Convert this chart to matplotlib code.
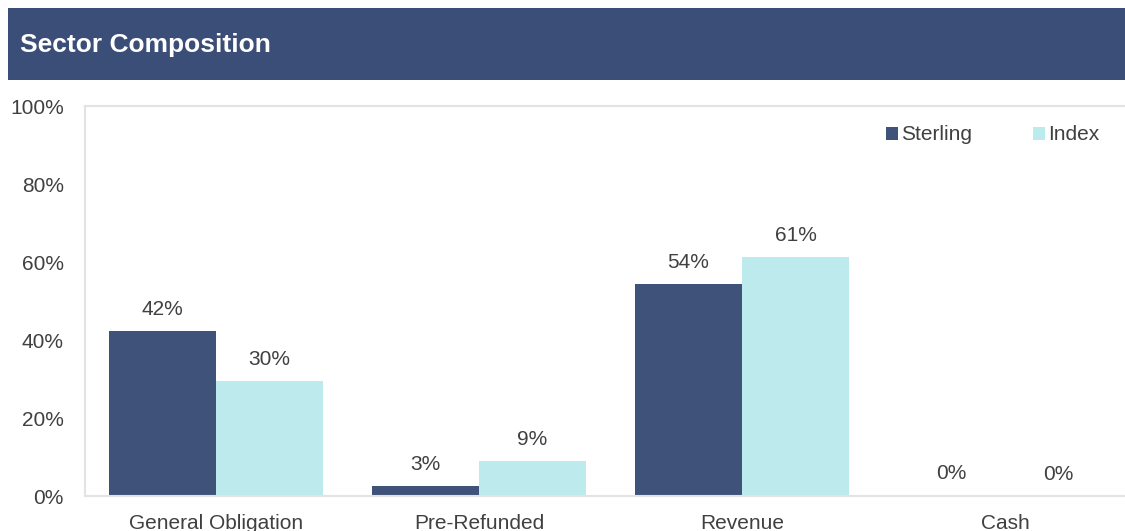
import numpy as np
import matplotlib.pyplot as plt
from matplotlib.patches import Rectangle
from matplotlib.ticker import FuncFormatter

# data
categories = ["General Obligation", "Pre-Refunded", "Revenue", "Cash"]
sterling = [42.3, 2.6, 54.4, 0.3]
index = [29.5, 9.0, 61.3, 0.0]
sterling_lbl = ["42%", "3%", "54%", "0%"]
index_lbl = ["30%", "9%", "61%", "0%"]

NAVY = "#3f527a"
AQUA = "#bdebed"
HEADER = "#3b4e77"
TEXT = "#404040"
FS = 15

plt.rcParams['font.family'] = ['Liberation Sans', 'DejaVu Sans']

fig = plt.figure(figsize=(11.25, 5.31), dpi=100, facecolor='white')

# header band
fig.patches.append(Rectangle((8 / 1125, 1 - 80 / 531), 1 - 8 / 1125, 72 / 531,
                             transform=fig.transFigure, facecolor=HEADER,
                             edgecolor='none', zorder=0))
fig.text(20 / 1125, 1 - 45 / 531, "Sector Composition", color='white',
         fontsize=19, fontweight='bold', va='center', ha='left')

# plot box runs past the right edge of the image, as in the original export
ax = fig.add_axes([84.5 / 1125, 35 / 531, 1052 / 1125, 390 / 531])

x = np.arange(len(categories))
w = 0.407
b1 = ax.bar(x - w / 2, sterling, w, color=NAVY, label="Sterling", zorder=2)
b2 = ax.bar(x + w / 2, index, w, color=AQUA, label="Index", zorder=2)

for bars, labels in ((b1, sterling_lbl), (b2, index_lbl)):
    for rect, lab in zip(bars, labels):
        ax.text(rect.get_x() + rect.get_width() / 2, rect.get_height() + 5.5,
                lab, ha='center', va='center', fontsize=FS, color=TEXT)

ax.set_xlim(-0.5, len(categories) - 0.5)
ax.set_ylim(0, 100)
ax.set_yticks(np.arange(0, 101, 20))
ax.yaxis.set_major_formatter(FuncFormatter(lambda v, p: f"{v:.0f}%"))
ax.set_xticks(x)
ax.set_xticklabels(categories)
ax.tick_params(axis='both', length=0, labelsize=FS, colors=TEXT)
ax.tick_params(axis='y', pad=15)
ax.tick_params(axis='x', pad=13)

for s in ax.spines.values():
    s.set_color('#e3e3e6')
    s.set_linewidth(1.5)

ax.legend(loc='center left', bbox_to_anchor=(801 / 1052, 1 - 29 / 390), ncol=2,
          frameon=False, fontsize=FS, handlelength=0.6, handleheight=0.6,
          handletextpad=0.15, columnspacing=2.9, labelcolor=TEXT,
          borderaxespad=0, borderpad=0)

fig.savefig("out.png", dpi=100, facecolor='white')
